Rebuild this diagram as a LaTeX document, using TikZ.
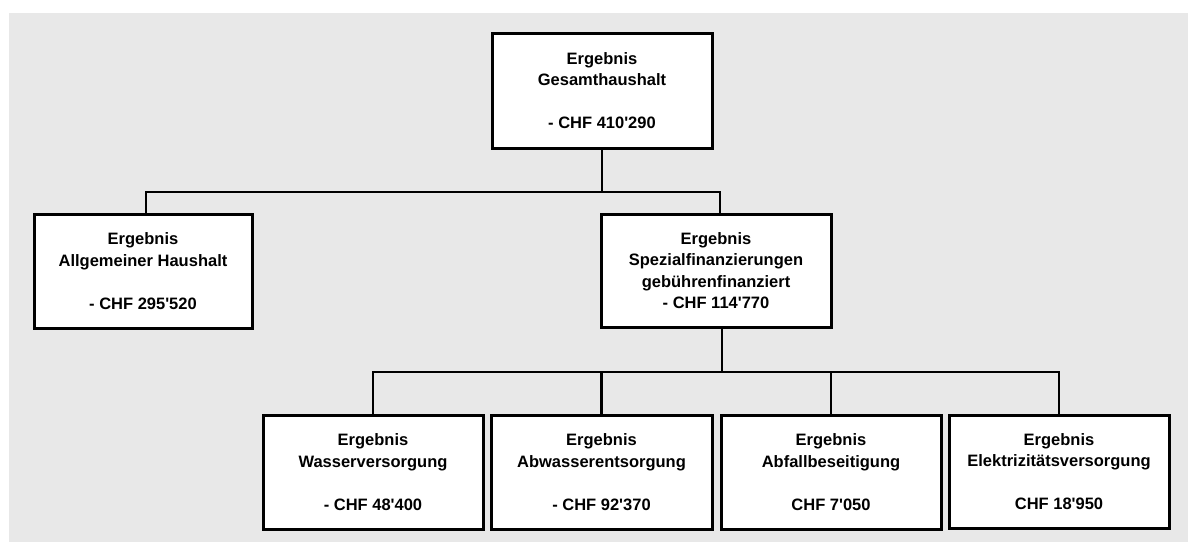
\documentclass[tikz,border=0pt]{standalone}
\usepackage{fontspec}
\setmainfont{Liberation Sans}
\newcommand{\ap}{\textquotesingle}
\tikzset{
  box/.style={draw=black, line width=3pt, fill=white, align=center, inner sep=0pt,
    font=\bfseries\fontsize{16.5}{21.5}\selectfont},
  conn/.style={draw=black, line width=2.6pt, line cap=rect},
}
\begin{document}
\begin{tikzpicture}[x=1pt,y=-1pt]
\useasboundingbox (0,0) rectangle (1188,542);
\fill[black!9] (9,13) rectangle (1188,542);
% boxes
\node[box, minimum width=220pt, minimum height=115pt] (top) at (602,90.5)
  {Ergebnis\\Gesamthaushalt\\[21.5pt]- CHF 410\ap 290};
\node[box, minimum width=218pt, minimum height=114pt] (allg) at (143,271)
  {Ergebnis\\Allgemeiner Haushalt\\[21.5pt]- CHF 295\ap 520};
\node[box, minimum width=230pt, minimum height=113pt] (spez) at (716,270.5)
  {Ergebnis\\Spezialfinanzierungen\\gebührenfinanziert\\- CHF 114\ap 770};
\node[box, minimum width=220pt, minimum height=114pt] (w) at (373,472)
  {Ergebnis\\Wasserversorgung\\[21.5pt]- CHF 48\ap 400};
\node[box, minimum width=221pt, minimum height=114pt] (a) at (601.5,472)
  {Ergebnis\\Abwasserentsorgung\\[21.5pt]- CHF 92\ap 370};
\node[box, minimum width=220pt, minimum height=114pt] (b) at (831,472)
  {Ergebnis\\Abfallbeseitigung\\[21.5pt]CHF 7\ap 050};
\node[box, minimum width=220pt, minimum height=113pt] (e) at (1059,471.5)
  {Ergebnis\\Elektrizitätsversorgung\\[21.5pt]CHF 18\ap 950};
% junction coordinates
\coordinate (j1) at (602,192);
\coordinate (j1l) at (146,192);
\coordinate (j1r) at (720,192);
\coordinate (j2) at (722,372);
\coordinate (j2l) at (373,372);
\coordinate (j2r) at (1059,372);
% connectors
\draw[conn] (top.south) -- (j1);
\draw[conn] (j1l) -- (j1r);
\draw[conn] (j1l) -- (j1l |- allg.north);
\draw[conn] (j1r) -- (j1r |- spez.north);
\draw[conn] (spez.south -| j2) -- (j2);
\draw[conn] (j2l) -- (j2r);
\draw[conn] (j2l) -- (w.north);
\draw[conn] (a.north) -- (a.north |- j2l);
\draw[conn] (b.north) -- (b.north |- j2l);
\draw[conn] (e.north) -- (j2r);
\end{tikzpicture}
\end{document}
